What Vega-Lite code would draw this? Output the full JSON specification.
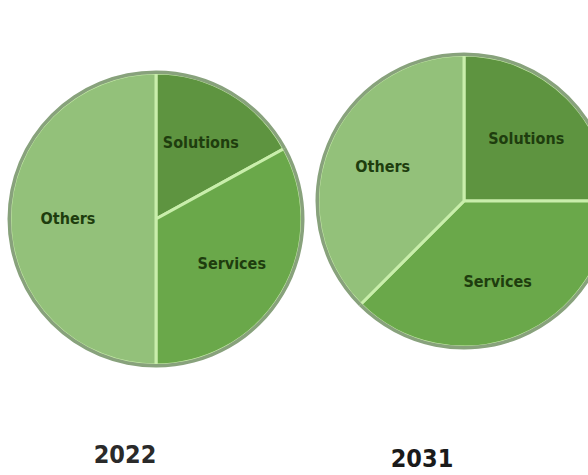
{
  "$schema": "https://vega.github.io/schema/vega-lite/v6.json",
  "padding": 0,
  "background": "#ffffff",
  "spacing": 0,
  "config": {"view": {"stroke": null}},
  "datasets": {
    "shares": [
      {"year": "2022", "segment": "Solutions", "share": 17},
      {"year": "2022", "segment": "Services", "share": 33},
      {"year": "2022", "segment": "Others", "share": 50},
      {"year": "2031", "segment": "Solutions", "share": 25},
      {"year": "2031", "segment": "Services", "share": 37.5},
      {"year": "2031", "segment": "Others", "share": 37.5}
    ]
  },
  "hconcat": [
    {
      "width": 312,
      "height": 438,
      "data": {"name": "shares"},
      "transform": [{"filter": "datum.year == '2022'"}],
      "title": {"text": "2022", "orient": "bottom", "dx": -31, "offset": 5, "fontSize": 25, "font": "DejaVu Sans Condensed", "fontWeight": "bold", "color": "#2a2a2a"},
      "layer": [
        {
          "mark": {"type": "arc", "outerRadius": 146, "stroke": "#c9eeab", "strokeWidth": 3},
          "encoding": {
            "theta": {"field": "share", "type": "quantitative", "stack": true},
            "order": {"field": "segment", "sort": "descending"},
            "color": {"field": "segment", "type": "nominal", "legend": null,
              "scale": {"domain": ["Solutions", "Services", "Others"], "range": ["#5e9440", "#6aa84a", "#93c17a"]}}
          }
        },
        {
          "mark": {"type": "arc", "innerRadius": 145, "outerRadius": 148.5, "color": "#88a27c"},
          "encoding": {
            "theta": {"field": "share", "type": "quantitative", "stack": true},
            "order": {"field": "segment", "sort": "descending"},
            "detail": {"field": "segment"}
          }
        },
        {
          "mark": {"type": "text", "radius": 88, "fontSize": 16, "fontWeight": "bold", "font": "DejaVu Sans Condensed", "fill": "#1e3d0e"},
          "encoding": {
            "theta": {"field": "share", "type": "quantitative", "stack": true},
            "order": {"field": "segment", "sort": "descending"},
            "detail": {"field": "segment"},
            "text": {"field": "segment"}
          }
        }
      ]
    },
    {
      "width": 296,
      "height": 402,
      "data": {"name": "shares"},
      "transform": [{"filter": "datum.year == '2031'"}],
      "title": {"text": "2031", "orient": "bottom", "dx": -42, "offset": 45, "fontSize": 25, "font": "DejaVu Sans Condensed", "fontWeight": "bold", "color": "#1a1a1a"},
      "layer": [
        {
          "mark": {"type": "arc", "outerRadius": 146, "stroke": "#c9eeab", "strokeWidth": 3},
          "encoding": {
            "theta": {"field": "share", "type": "quantitative", "stack": true},
            "order": {"field": "segment", "sort": "descending"},
            "color": {"field": "segment", "type": "nominal", "legend": null,
              "scale": {"domain": ["Solutions", "Services", "Others"], "range": ["#5e9440", "#6aa84a", "#93c17a"]}}
          }
        },
        {
          "mark": {"type": "arc", "innerRadius": 145, "outerRadius": 148.5, "color": "#88a27c"},
          "encoding": {
            "theta": {"field": "share", "type": "quantitative", "stack": true},
            "order": {"field": "segment", "sort": "descending"},
            "detail": {"field": "segment"}
          }
        },
        {
          "mark": {"type": "text", "radius": 88, "fontSize": 16, "fontWeight": "bold", "font": "DejaVu Sans Condensed", "fill": "#1e3d0e"},
          "encoding": {
            "theta": {"field": "share", "type": "quantitative", "stack": true},
            "order": {"field": "segment", "sort": "descending"},
            "detail": {"field": "segment"},
            "text": {"field": "segment"}
          }
        }
      ]
    }
  ]
}
